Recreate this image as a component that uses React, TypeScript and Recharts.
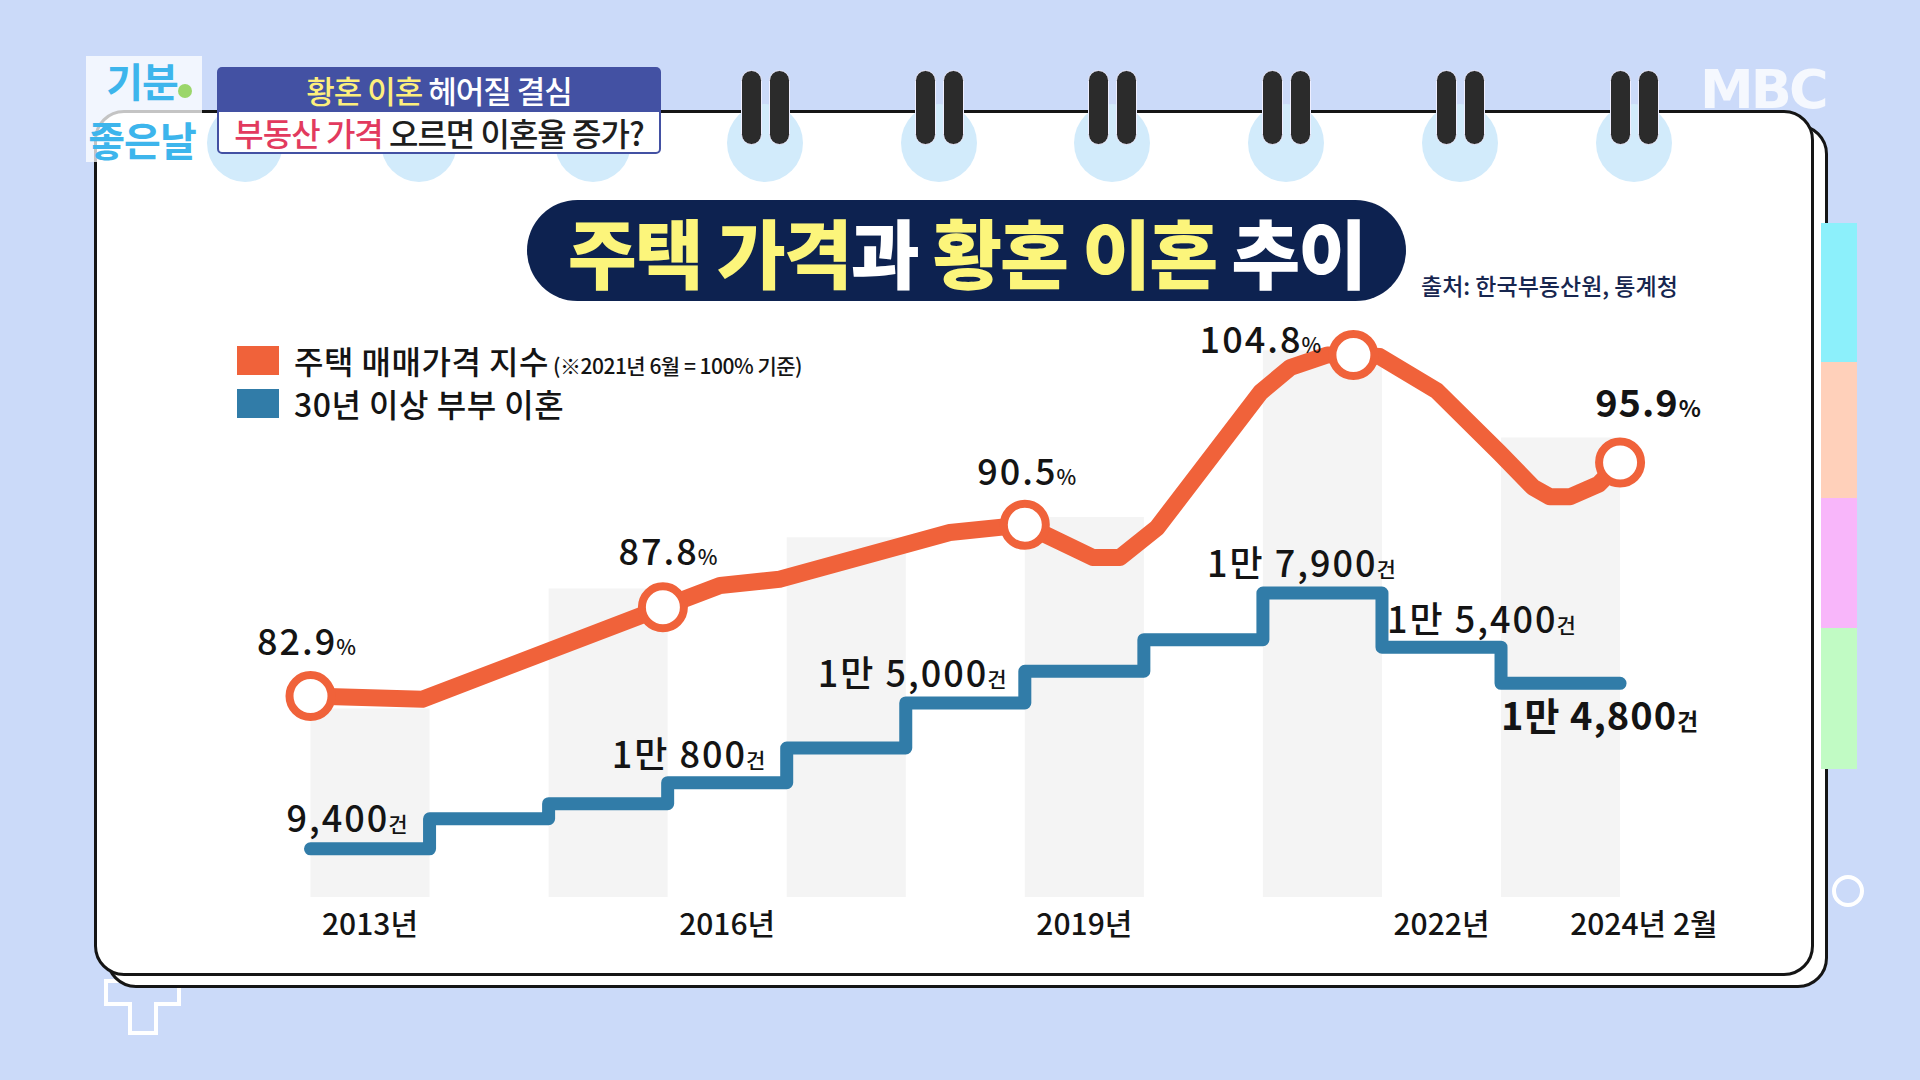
import React from "react";
import { ComposedChart, Line, XAxis, YAxis, ReferenceArea } from "recharts";

const FONT = "'Noto Sans CJK KR', 'Noto Sans', sans-serif";
const ORANGE = "#f0623a";
const BLUE = "#317ca8";
const INK = "#141414";

// 주택 매매가격 지수 — x: 시점(연), y: 그림 위 위치에서 읽은 값
const PRICE_T = [
  2013.0, 2013.94, 2015.96, 2016.44, 2016.94, 2018.37, 2019.0, 2019.57, 2019.8, 2020.11, 2020.98,
  2021.23, 2021.54, 2021.76, 2021.98, 2022.46, 2022.99, 2023.27, 2023.41, 2023.58, 2023.82, 2024.0,
];
const PRICE_V = [
  82.9, 82.7, 88.6, 90.0, 90.4, 93.4, 93.9, 91.8, 91.8, 93.7, 102.4,
  104.0, 104.8, 104.8, 104.7, 102.5, 98.5, 96.3, 95.7, 95.7, 96.5, 97.9,
];
const PRICE_MARK_AT = [0, 2, 6, 13, 21];
const PRICE_MARK_TEXT = ["82.9", "87.8", "90.5", "104.8", "95.9"];

// 30년 이상 부부 이혼 (연도별 계단)
const COUNT_T = [2013, 2014, 2015, 2016, 2017, 2018, 2019, 2020, 2021, 2022, 2023, 2024];
const COUNT_V = [9400, 10400, 10900, 11600, 12750, 14250, 15300, 16350, 17900, 16100, 14900, 14900];
const COUNT_TEXT = ["9,400", "", "", "1만 800", "", "1만 5,000", "", "", "1만 7,900", "1만 5,400", "1만 4,800", ""];

// 배경 회색 띠
const STRIPE_FROM = [2013, 2015, 2017, 2019, 2021, 2023];
const STRIPE_TOP = [82.1, 89.8, 93.1, 94.4, 105.1, 99.5];

const TICK_T = [2013.5, 2016.5, 2019.5, 2022.5, 2024.2];
const TICK_TEXT = ["2013년", "2016년", "2019년", "2022년", "2024년 2월"];

type Row = { t: number; price?: number; count?: number; mark?: number; cmark?: number };

function buildRows(): Row[] {
  const map = new Map<number, Row>();
  const get = (t: number) => {
    let r = map.get(t);
    if (!r) {
      r = { t };
      map.set(t, r);
    }
    return r;
  };
  PRICE_T.forEach((t, i) => {
    const r = get(t);
    r.price = PRICE_V[i];
    const k = PRICE_MARK_AT.indexOf(i);
    if (k >= 0) r.mark = k;
  });
  COUNT_T.forEach((t, i) => {
    const r = get(t);
    r.count = COUNT_V[i];
    if (COUNT_TEXT[i]) r.cmark = i;
  });
  return [...map.values()].sort((a, b) => a.t - b.t);
}

const ROWS = buildRows();

// label placement relative to the point
const PRICE_LABEL_POS = [
  { dx: -4, dy: -41, bold: false },
  { dx: 5, dy: -42, bold: false },
  { dx: 2, dy: -40, bold: false },
  { dx: -93, dy: -2, bold: false },
  { dx: 28, dy: -45, bold: true },
];
const COUNT_LABEL_POS: Record<number, { dx: number; dy: number; bold?: boolean }> = {
  0: { dx: -24, dy: -17 },
  3: { dx: -56, dy: -15 },
  5: { dx: -88, dy: -16 },
  8: { dx: -56, dy: -16 },
  9: { dx: 5, dy: -14 },
  10: { dx: 0, dy: 47, bold: true },
};

function renderPriceDot(p: any) {
  const { cx, cy, payload } = p;
  if (cx == null || cy == null || payload == null || payload.mark == null) return <g key={p.key} />;
  const k = payload.mark as number;
  const pos = PRICE_LABEL_POS[k];
  const ls = pos.bold ? 1 : 2;
  return (
    <g key={p.key}>
      <circle cx={cx} cy={cy} r={21} fill="#fff" stroke={ORANGE} strokeWidth={8} />
      <text
        x={cx + pos.dx}
        y={cy + pos.dy}
        textAnchor="middle"
        fontFamily={FONT}
        fontWeight={pos.bold ? 700 : 500}
        fill={INK}
      >
        <tspan fontSize={pos.bold ? 38 : 36} letterSpacing={ls}>
          {PRICE_MARK_TEXT[k]}
        </tspan>
        <tspan fontSize={pos.bold ? 23 : 21} dx={1 - ls}>
          %
        </tspan>
      </text>
    </g>
  );
}

function renderCountDot(p: any) {
  const { cx, cy, payload } = p;
  if (cx == null || cy == null || payload == null || payload.cmark == null) return <g key={p.key} />;
  const i = payload.cmark as number;
  const pos = COUNT_LABEL_POS[i];
  if (!pos) return <g key={p.key} />;
  const ls = pos.bold ? 1 : 2;
  return (
    <text
      key={p.key}
      x={cx + pos.dx}
      y={cy + pos.dy}
      fontFamily={FONT}
      fontWeight={pos.bold ? 700 : 500}
      fill={INK}
    >
      <tspan fontSize={pos.bold ? 38 : 36} letterSpacing={ls}>
        {COUNT_TEXT[i]}
      </tspan>
      <tspan fontSize={pos.bold ? 23 : 21} dx={1 - ls}>
        건
      </tspan>
    </text>
  );
}

function renderTick(p: any) {
  const i = TICK_T.indexOf(p.payload.value);
  return (
    <text x={p.x} y={p.y + 30} textAnchor="middle" fontSize={30} fontWeight={500} fill={INK} fontFamily={FONT}>
      {TICK_TEXT[i]}
    </text>
  );
}

const RING_X = [245, 419, 593, 765, 939, 1112, 1286, 1460, 1634];
const TABS = [
  { top: 223, h: 139, c: "#8cf0fb" },
  { top: 362, h: 136, c: "#ffd0ba" },
  { top: 498, h: 130, c: "#f8b6fa" },
  { top: 628, h: 141, c: "#c1fbc4" },
];

const abs = (s: React.CSSProperties): React.CSSProperties => ({ position: "absolute", boxSizing: "border-box", ...s });

export default function App() {
  return (
    <div
      style={{
        position: "fixed",
        left: 0,
        top: 0,
        width: 1920,
        height: 1080,
        overflow: "hidden",
        background: "#cbdaf9",
        fontFamily: FONT,
      }}
    >
      {/* bottom-left cross decoration */}
      <svg style={abs({ left: 0, top: 0 })} width={1920} height={1080}>
        <path
          d="M130 960 H156 V981 H179 V1004 H156 V1033 H130 V1004 H106 V981 H130 Z"
          fill="none"
          stroke="#fff"
          strokeWidth={4}
        />
        <circle cx={1848} cy={891} r={14} fill="none" stroke="#fff" strokeWidth={4} />
      </svg>

      {/* pages */}
      <div style={abs({ left: 106, top: 124, width: 1722, height: 864, background: "#fff", border: "3px solid #151515", borderRadius: 30 })} />
      <div style={abs({ left: 94, top: 110, width: 1720, height: 866, background: "#fff", border: "3px solid #151515", borderRadius: 30 })} />

      {/* spiral rings */}
      {RING_X.map((x) => (
        <div key={"c" + x} style={abs({ left: x - 38, top: 104, width: 76, height: 78, borderRadius: "50%", background: "#d2ebfb" })} />
      ))}
      {RING_X.slice(3).map((x) => (
        <React.Fragment key={"b" + x}>
          <div style={abs({ left: x - 24, top: 70, width: 21, height: 75, borderRadius: 11, background: "#2b2b2b", border: "1.5px solid #eef" })} />
          <div style={abs({ left: x + 4, top: 70, width: 21, height: 75, borderRadius: 11, background: "#2b2b2b", border: "1.5px solid #eef" })} />
        </React.Fragment>
      ))}

      {/* side tabs */}
      {TABS.map((t) => (
        <div key={t.top} style={abs({ left: 1821, top: t.top, width: 36, height: t.h, background: t.c })} />
      ))}

      {/* show logo */}
      <div style={abs({ left: 86, top: 56, width: 116, height: 106, background: "rgba(255,255,255,0.75)" })} />
      <div
        style={abs({
          left: 80,
          top: 51,
          width: 124,
          textAlign: "center",
          fontSize: 40,
          lineHeight: "59px",
          fontWeight: 700,
          color: "#3db5ec",
          letterSpacing: -1,
        })}
      >
        기분
        <br />
        좋은날
      </div>
      <div style={abs({ left: 178, top: 84, width: 14, height: 14, borderRadius: "50%", background: "#9bd66a" })} />

      {/* caption boxes */}
      <div
        style={abs({
          left: 217,
          top: 67,
          width: 444,
          height: 44,
          background: "#4351a3",
          borderRadius: "5px 5px 0 0",
          display: "flex",
          alignItems: "center",
          justifyContent: "center",
          fontSize: 31,
          fontWeight: 500,
          letterSpacing: -1,
          color: "#fff",
          lineHeight: 1,
        })}
      >
        <span style={{ color: "#fdef7c" }}>황혼 이혼</span>&nbsp;헤어질 결심
      </div>
      <div
        style={abs({
          left: 217,
          top: 110,
          width: 444,
          height: 44,
          background: "#fff",
          border: "2px solid #4351a3",
          borderRadius: "0 0 5px 5px",
          display: "flex",
          alignItems: "center",
          justifyContent: "center",
          fontSize: 32,
          fontWeight: 500,
          letterSpacing: -1,
          color: "#1e1e1e",
          lineHeight: 1,
        })}
      >
        <span style={{ color: "#e23a5e" }}>부동산 가격</span>&nbsp;오르면 이혼율 증가?
      </div>

      {/* broadcaster mark */}
      <div
        style={abs({
          left: 1700,
          top: 62,
          fontFamily: "'DejaVu Sans', sans-serif",
          fontWeight: 700,
          fontSize: 54,
          lineHeight: "56px",
          letterSpacing: -3,
          color: "rgba(255,255,255,0.8)",
        })}
      >
        MBC
      </div>

      {/* title */}
      <div
        style={abs({
          left: 527,
          top: 200,
          width: 879,
          height: 101,
          borderRadius: 51,
          background: "#0d2250",
          display: "flex",
          alignItems: "center",
          justifyContent: "center",
          fontSize: 75,
          fontWeight: 900,
          letterSpacing: -2,
          color: "#fff",
          lineHeight: 1,
        })}
      >
        <span style={{ color: "#fcf57b" }}>주택 가격</span>과&nbsp;<span style={{ color: "#fcf57b" }}>황혼 이혼</span>&nbsp;추이
      </div>
      <div style={abs({ left: 1421, top: 274, fontSize: 23, lineHeight: 1, fontWeight: 500, color: "#17264f" })}>
        출처: 한국부동산원, 통계청
      </div>

      {/* legend */}
      <div style={abs({ left: 237, top: 346, width: 42, height: 29, background: ORANGE })} />
      <div style={abs({ left: 237, top: 389, width: 42, height: 29, background: BLUE })} />
      <div style={abs({ left: 294, top: 344, fontSize: 32, lineHeight: 1, fontWeight: 500, letterSpacing: 0.5, color: INK })}>
        주택 매매가격 지수
      </div>
      <div style={abs({ left: 553, top: 355, fontSize: 21, lineHeight: 1, fontWeight: 500, letterSpacing: -0.5, color: INK })}>
        (※2021년 6월 = 100% 기준)
      </div>
      <div style={abs({ left: 294, top: 387, fontSize: 32, lineHeight: 1, fontWeight: 500, letterSpacing: 0.5, color: INK })}>
        30년 이상 부부 이혼
      </div>

      {/* chart */}
      <div style={abs({ left: 0, top: 0 })}>
        <ComposedChart
          width={1920}
          height={1080}
          data={ROWS}
          margin={{ top: 274, right: 240.4, bottom: 123, left: 310.5 }}
        >
          <XAxis
            dataKey="t"
            type="number"
            domain={[2013, 2024.5]}
            ticks={TICK_T}
            interval={0}
            axisLine={false}
            tickLine={false}
            height={60}
            tick={renderTick}
          />
          <YAxis yAxisId="price" hide type="number" domain={[70, 110]} />
          <YAxis yAxisId="count" hide type="number" domain={[7800, 28500]} />
          {STRIPE_FROM.map((s, i) => (
            <ReferenceArea
              key={s}
              yAxisId="price"
              x1={s}
              x2={s + 1}
              y1={70}
              y2={STRIPE_TOP[i]}
              fill="#f4f4f4"
              fillOpacity={1}
              stroke="none"
            />
          ))}
          <Line
            yAxisId="count"
            dataKey="count"
            type="stepAfter"
            stroke={BLUE}
            strokeWidth={13}
            strokeLinecap="round"
            strokeLinejoin="round"
            dot={renderCountDot}
            activeDot={false}
            connectNulls
            isAnimationActive={false}
          />
          <Line
            yAxisId="price"
            dataKey="price"
            type="linear"
            stroke={ORANGE}
            strokeWidth={17}
            strokeLinecap="round"
            strokeLinejoin="round"
            dot={renderPriceDot}
            activeDot={false}
            connectNulls
            isAnimationActive={false}
          />
        </ComposedChart>
      </div>
    </div>
  );
}
